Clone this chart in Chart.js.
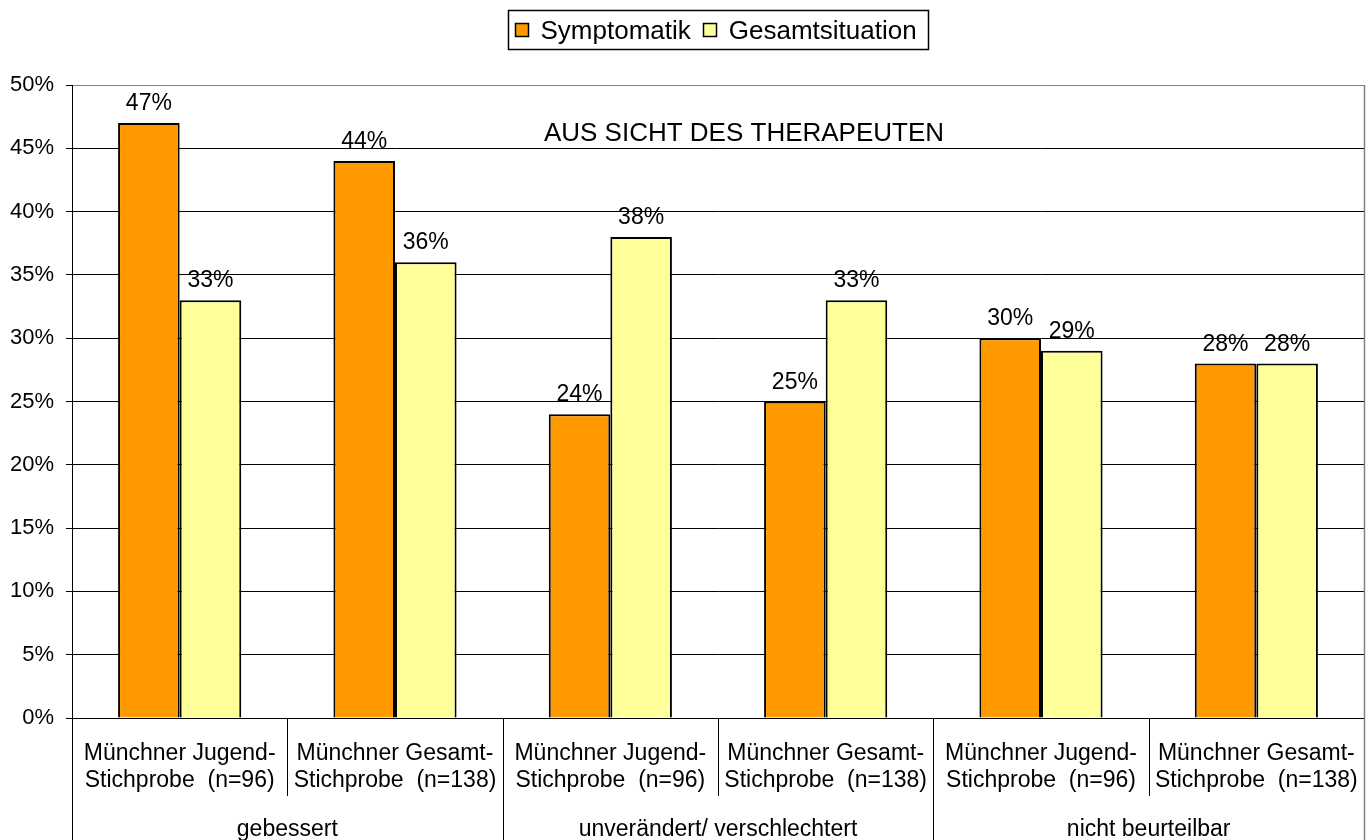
<!DOCTYPE html>
<html>
<head>
<meta charset="utf-8">
<script src="https://cdn.jsdelivr.net/npm/chart.js@4.4.1/dist/chart.umd.min.js"></script>
<style>
  html, body { margin: 0; padding: 0; background: #ffffff; }
  #wrap { position: relative; width: 1371px; height: 840px; }
</style>
</head>
<body>
<div id="wrap"><canvas id="c"></canvas></div>
<script>
// ---- data ----
const subLabelLine1 = ["Münchner Jugend-", "Münchner Gesamt-", "Münchner Jugend-", "Münchner Gesamt-", "Münchner Jugend-", "Münchner Gesamt-"];
const subLabelLine2 = ["Stichprobe  (n=96)", "Stichprobe  (n=138)", "Stichprobe  (n=96)", "Stichprobe  (n=138)", "Stichprobe  (n=96)", "Stichprobe  (n=138)"];
const groupLabels = ["gebessert", "unverändert/ verschlechtert", "nicht beurteilbar"];
const seriesNames = ["Symptomatik", "Gesamtsituation"];
const symptomatik = [47, 44, 24, 25, 30, 28];
const gesamtsituation = [33, 36, 38, 33, 29, 28];
const yTicks = [0, 5, 10, 15, 20, 25, 30, 35, 40, 45, 50];
const innerTitle = "AUS SICHT DES THERAPEUTEN";

const FONT = "'Liberation Sans', Arial, Helvetica, sans-serif";
const colors = ["#FF9900", "#FFFF99"];

const categories = subLabelLine1.map((a, i) => a + " " + subLabelLine2[i]);

const overlay = {
  id: 'overlay',
  afterDraw(chart) {
    const ctx = chart.ctx;
    const xs = chart.scales.x;
    const ca = chart.chartArea;
    const n = categories.length;
    ctx.save();

    // right border (gray)
    ctx.strokeStyle = '#808080';
    ctx.lineWidth = 1.5;
    ctx.beginPath();
    const rx = Math.round(ca.right) + 0.5;
    ctx.moveTo(rx, ca.top);
    ctx.lineTo(rx, chart.height);
    ctx.stroke();

    // category dividers
    ctx.lineWidth = 1;
    ctx.strokeStyle = '#000000';
    for (let i = 1; i < n; i++) {
      const x = Math.round(xs.getPixelForValue(i - 0.5)) + 0.5;
      const isGroup = (i % 2 === 0);
      ctx.beginPath();
      ctx.moveTo(x, ca.bottom);
      ctx.lineTo(x, isGroup ? chart.height : 796);
      ctx.stroke();
    }
    // left group line down
    ctx.beginPath();
    const lx = Math.round(ca.left) + 0.5;
    ctx.moveTo(lx, ca.bottom);
    ctx.lineTo(lx, chart.height);
    ctx.stroke();

    // category labels
    ctx.fillStyle = '#000000';
    ctx.textAlign = 'center';
    ctx.textBaseline = 'alphabetic';
    ctx.font = "23px " + FONT;
    for (let i = 0; i < n; i++) {
      const x = xs.getPixelForValue(i);
      ctx.fillText(subLabelLine1[i], x, 760);
      ctx.fillText(subLabelLine2[i], x, 787);
    }
    // group labels
    for (let g = 0; g < groupLabels.length; g++) {
      const x = xs.getPixelForValue(2 * g + 0.5);
      ctx.fillText(groupLabels[g], x, 836);
    }

    // data labels
    ctx.font = "23px " + FONT;
    chart.data.datasets.forEach((ds, di) => {
      const meta = chart.getDatasetMeta(di);
      meta.data.forEach((bar, j) => {
        ctx.fillText(ds.data[j] + '%', bar.x, bar.y - 13);
      });
    });

    // inner title
    ctx.font = "26px " + FONT;
    ctx.fillText(innerTitle, 744, 141);

    // legend
    ctx.font = "26px " + FONT;
    const sq = 14, gapText = 12, gapItem = 12, padL = 6, padR = 12;
    let w = 0;
    const tw = seriesNames.map(s => ctx.measureText(s).width);
    tw.forEach((t, k) => { w += sq + gapText + t + (k < tw.length - 1 ? gapItem : 0); });
    const boxW = padL + w + padR;
    const cx = (ca.left + ca.right) / 2;
    const bx = Math.round(cx - boxW / 2) + 0.5;
    ctx.fillStyle = '#ffffff';
    ctx.strokeStyle = '#000000';
    ctx.lineWidth = 1.5;
    ctx.fillRect(bx, 10.5, boxW, 39);
    ctx.strokeRect(bx, 10.5, Math.round(boxW), 39);
    let x = bx + padL;
    ctx.textAlign = 'left';
    seriesNames.forEach((s, k) => {
      ctx.fillStyle = colors[k];
      ctx.fillRect(Math.round(x), 23, sq, sq);
      ctx.strokeStyle = '#000000';
      ctx.lineWidth = 1.5;
      ctx.strokeRect(Math.round(x) + 0.5, 23.5, sq - 1, sq - 1);
      ctx.fillStyle = '#000000';
      ctx.fillText(s, x + sq + gapText, 39);
      x += sq + gapText + tw[k] + gapItem;
    });

    ctx.restore();
  }
};

new Chart(document.getElementById('c'), {
  type: 'bar',
  data: {
    labels: categories,
    datasets: [
      { label: seriesNames[0], data: symptomatik, backgroundColor: colors[0], borderColor: '#000000', borderWidth: 2 },
      { label: seriesNames[1], data: gesamtsituation, backgroundColor: colors[1], borderColor: '#000000', borderWidth: 2 }
    ]
  },
  options: {
    responsive: true,
    maintainAspectRatio: false,
    animation: false,
    devicePixelRatio: 1,
    layout: { padding: { top: 85, right: 7, bottom: 0, left: 0 } },
    datasets: { bar: { categoryPercentage: 0.572, barPercentage: 1.0 } },
    plugins: {
      legend: { display: false },
      tooltip: { enabled: false },
      title: { display: false }
    },
    scales: {
      x: {
        offset: true,
        grid: { display: false },
        border: { display: false },
        ticks: { display: false },
        afterFit(scale) { scale.height = 122; }
      },
      y: {
        min: 0,
        max: 50,
        afterBuildTicks(scale) { scale.ticks = yTicks.map(v => ({ value: v })); },
        afterFit(scale) { scale.width = 72; },
        border: { display: true, color: '#000000', width: 1 },
        grid: {
          color: ctx => (ctx.tick && ctx.tick.value === 50) ? '#808080' : '#000000',
          lineWidth: 1,
          drawTicks: true,
          tickLength: 6,
          tickColor: '#000000'
        },
        ticks: {
          color: '#000000',
          font: { family: FONT, size: 22 },
          padding: 12,
          callback: v => v + '%'
        }
      }
    }
  },
  plugins: [overlay]
});
</script>
</body>
</html>
